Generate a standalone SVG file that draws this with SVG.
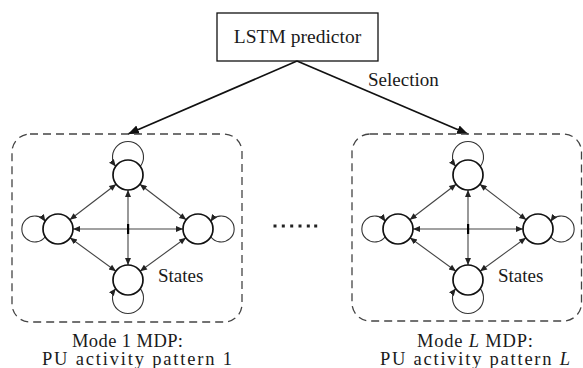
<svg xmlns="http://www.w3.org/2000/svg" width="583" height="368" viewBox="0 0 583 368">
<style>
text{font-family:"Liberation Serif","Times New Roman",serif;fill:#1a1a1a}
.t{font-size:19.5px}
.s{font-size:19px}
.c{font-size:18.5px}
.box{fill:none;stroke:#444;stroke-width:1.3;stroke-dasharray:8 5}
.node{fill:#fff;stroke:#111;stroke-width:1.7}
.e{fill:none;stroke:#444;stroke-width:1.1;marker-start:url(#as);marker-end:url(#ae)}
.loop{fill:none;stroke:#333;stroke-width:1.1;marker-end:url(#ae)}
.big{fill:none;stroke:#111;stroke-width:1.7;marker-end:url(#ab)}
</style>
<defs>
<marker id="ae" markerUnits="userSpaceOnUse" markerWidth="10" markerHeight="10" refX="7" refY="3" orient="auto"><path d="M0,0 L7,3 L0,6 z" fill="#222"/></marker>
<marker id="as" markerUnits="userSpaceOnUse" markerWidth="10" markerHeight="10" refX="0" refY="3" orient="auto"><path d="M7,0 L0,3 L7,6 z" fill="#222"/></marker>
<marker id="ab" markerUnits="userSpaceOnUse" markerWidth="14" markerHeight="12" refX="11" refY="4.5" orient="auto"><path d="M0,0 L11,4.5 L0,9 z" fill="#111"/></marker>
<g id="mdp">
<line class="e" x1="116.2" y1="184.2" x2="69.8" y2="219.8"/>
<line class="e" x1="139.8" y1="184.2" x2="186.2" y2="219.8"/>
<line class="e" x1="116" y1="271.2" x2="70" y2="237.8"/>
<line class="e" x1="140" y1="271.2" x2="186" y2="237.8"/>
<line class="e" x1="73" y1="229" x2="183" y2="229"/>
<line class="e" x1="128" y1="190" x2="128" y2="265"/>
<rect x="127" y="224" width="2.2" height="10" fill="#000"/>
<path class="loop" d="M140.3,166.4 A15.5,15.5 0 1 0 115.7,166.4"/>
<path class="loop" d="M45.44,236.5 A13,13 0 1 1 45.44,221.5"/>
<path class="loop" d="M210.56,236.5 A13,13 0 1 0 210.56,221.5"/>
<path class="loop" d="M140.3,288.6 A15.5,15.5 0 1 1 115.7,288.6"/>
<circle class="node" cx="128" cy="175" r="15"/>
<circle class="node" cx="58" cy="229" r="15"/>
<circle class="node" cx="198" cy="229" r="15"/>
<circle class="node" cx="128" cy="280" r="15"/>
<text class="s" x="158" y="282">States</text>
</g>
</defs>
<g id="lstm">
<rect x="217" y="13" width="161" height="48" fill="#fff" stroke="#111" stroke-width="1.3"/>
<text class="t" x="297.5" y="43" text-anchor="middle">LSTM predictor</text>
</g>
<g id="connectors">
<line class="big" x1="297" y1="61" x2="128" y2="134"/>
<line class="big" x1="297" y1="61" x2="468" y2="134"/>
<text class="s" x="368" y="86">Selection</text>
</g>
<g id="mode1">
<rect class="box" x="12" y="134" width="230" height="188" rx="18"/>
<use href="#mdp"/>
<text class="c" x="72" y="347" textLength="111">Mode 1 MDP:</text>
<text class="c" x="42" y="365" textLength="190">PU activity pattern 1</text>
</g>
<g id="dots" fill="#222">
<rect x="273.5" y="224.5" width="3" height="3"/>
<rect x="281.8" y="224.5" width="3" height="3"/>
<rect x="290.2" y="224.5" width="3" height="3"/>
<rect x="298.5" y="224.5" width="3" height="3"/>
<rect x="306.8" y="224.5" width="3" height="3"/>
<rect x="314.2" y="224.5" width="3" height="3"/>
</g>
<g id="modeL">
<rect class="box" x="352" y="134" width="229.5" height="187" rx="18"/>
<use href="#mdp" transform="translate(340,0)"/>
<text class="c" x="417" y="347" textLength="116">Mode <tspan font-style="italic">L</tspan> MDP:</text>
<text class="c" x="380" y="365" textLength="190">PU activity pattern <tspan font-style="italic">L</tspan></text>
</g>
</svg>
